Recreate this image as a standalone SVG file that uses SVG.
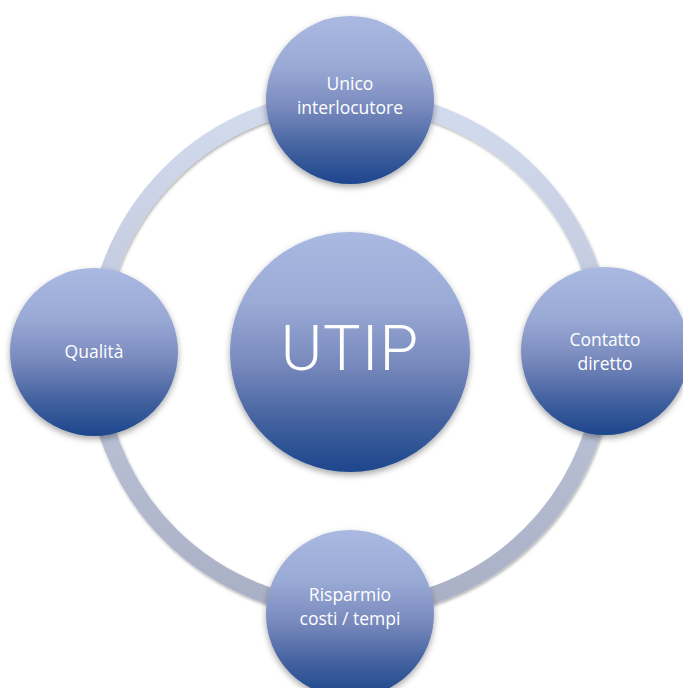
<svg xmlns="http://www.w3.org/2000/svg" width="683" height="688" viewBox="0 0 683 688">
<defs>
<linearGradient id="ballGrad" x1="0" y1="0" x2="0" y2="1">
<stop offset="0" stop-color="#a9b9e1"/>
<stop offset="0.3" stop-color="#9aaad6"/>
<stop offset="0.55" stop-color="#7889bd"/>
<stop offset="0.8" stop-color="#40609e"/>
<stop offset="1" stop-color="#1d468c"/>
</linearGradient>
<linearGradient id="ringGrad" x1="0" y1="99" x2="0" y2="609" gradientUnits="userSpaceOnUse">
<stop offset="0" stop-color="#d3dbef"/>
<stop offset="1" stop-color="#a9b0c5"/>
</linearGradient>
<filter id="shadow" x="-20%" y="-20%" width="140%" height="150%">
<feDropShadow dx="0" dy="3" stdDeviation="3" flood-color="#000" flood-opacity="0.35"/>
</filter>
<filter id="ringShadow" x="-10%" y="-10%" width="120%" height="120%">
<feDropShadow dx="1" dy="2" stdDeviation="1.5" flood-color="#000" flood-opacity="0.3"/>
</filter>
</defs>
<style>
.ball{fill:url(#ballGrad);filter:url(#shadow);}
.lbl{font-family:"Open Sans","Noto Sans",sans-serif;font-size:17.5px;fill:#ffffff;text-anchor:middle;}
.big{font-family:"Roboto","Lato",sans-serif;font-weight:300;font-size:63px;fill:#ffffff;text-anchor:middle;letter-spacing:1px;}
</style>
<rect width="683" height="688" fill="#ffffff"/>
<g id="connectors">
<circle cx="350" cy="354" r="255" fill="none" stroke="url(#ringGrad)" stroke-width="17" filter="url(#ringShadow)"/>
</g>
<g id="node-utip">
<circle class="ball" cx="350" cy="352" r="120"/>
<text class="big" x="350" y="370">UTIP</text>
</g>
<g id="node-unico">
<circle class="ball" cx="350" cy="100" r="84"/>
<text class="lbl" x="350" y="90">Unico</text>
<text class="lbl" x="350" y="114">interlocutore</text>
</g>
<g id="node-contatto">
<circle class="ball" cx="605" cy="351" r="84"/>
<text class="lbl" x="605" y="346">Contatto</text>
<text class="lbl" x="605" y="370">diretto</text>
</g>
<g id="node-qualita">
<circle class="ball" cx="94" cy="352" r="84"/>
<text class="lbl" x="94" y="358">Qualità</text>
</g>
<g id="node-risparmio">
<circle class="ball" cx="350" cy="614" r="84"/>
<text class="lbl" x="350" y="601">Risparmio</text>
<text class="lbl" x="350" y="625">costi / tempi</text>
</g>
</svg>
